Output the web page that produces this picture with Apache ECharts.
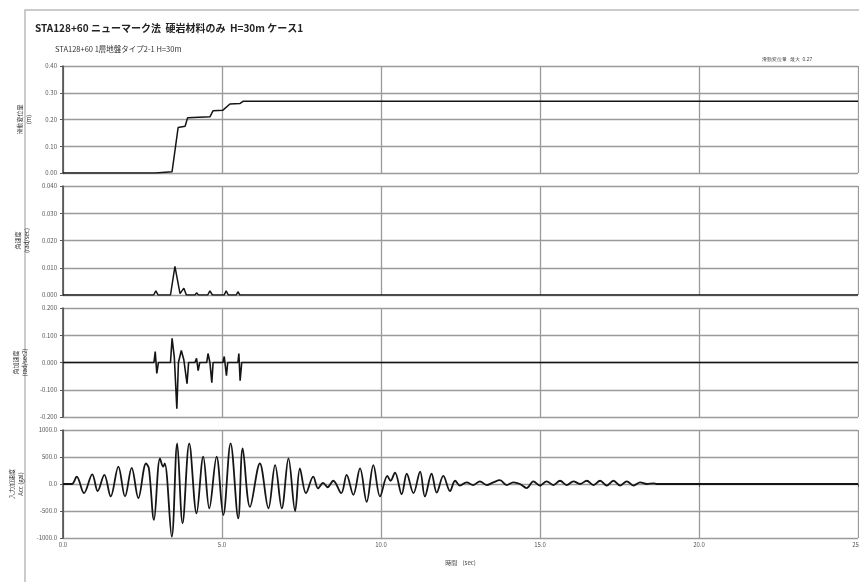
<!DOCTYPE html>
<html>
<head>
<meta charset="utf-8">
<script src="https://cdn.jsdelivr.net/npm/echarts@6/dist/echarts.min.js"></script>
<style>
html, body { margin: 0; background: #fff; }
#chart { width: 859px; height: 582px; }
</style>
</head>
<body>
<div id="chart"></div>
<script>
// 滑動変位量 (m)
let dispT = [0, 2.9, 2.95, 3.43, 3.62, 3.84, 3.92, 4.62, 4.72, 5.03, 5.25, 5.57, 5.66, 25];
let dispV = [0, 0, 0.005, 0.005, 0.17, 0.175, 0.207, 0.21, 0.233, 0.235, 0.258, 0.26, 0.268, 0.268];

// 角速度
let velT = [0, 2.85, 2.92, 2.99, 3.38, 3.52, 3.68, 3.73, 3.8, 3.88, 4.15, 4.2, 4.26, 4.55, 4.62, 4.7, 5.07, 5.13, 5.2, 5.45, 5.5, 5.56, 25];
let velV = [0, 0, 0.0015, 0, 0, 0.0105, 0.0005, 0, 0.0025, 0, 0, 0.0008, 0, 0, 0.0015, 0, 0, 0.0015, 0, 0, 0.0012, 0, 0];

// 角加速度
let accT = [0, 2.86, 2.9, 2.95, 3.0, 3.38, 3.43, 3.5, 3.58, 3.63, 3.68, 3.72, 3.8, 3.9, 3.95, 4.15, 4.2, 4.25, 4.3, 4.52, 4.56, 4.62, 4.68, 4.72,
            5.03, 5.07, 5.14, 5.18, 5.5, 5.53, 5.57, 5.62, 5.86, 5.88, 5.9, 7.31, 7.33, 7.35, 25];
let accV = [0, 0, 0.04, -0.04, 0, 0, 0.089, 0.02, -0.17, 0, 0, 0.044, 0.01, -0.078, 0, 0, 0.015, -0.03, 0, 0, 0.033, 0, -0.074, 0,
            0, 0.022, -0.048, 0, 0, 0.033, -0.067, 0, 0, 0.006, 0, 0, 0.005, 0, 0];

// 入力加速度 (gal)
let inT = [0, 0.28, 0.43, 0.66, 0.92, 1.09, 1.30, 1.50, 1.74, 1.95, 2.16, 2.37, 2.61, 2.70, 2.86, 3.05, 3.15, 3.20, 3.42, 3.59, 3.76, 3.97,
           4.20, 4.41, 4.60, 4.83, 5.04, 5.27, 5.51, 5.65, 5.88, 6.19, 6.46, 6.67, 6.88, 7.09, 7.30, 7.45, 7.64, 7.87, 8.02, 8.18, 8.32,
           8.50, 8.75, 8.92, 9.13, 9.34, 9.55, 9.76, 9.97, 10.2, 10.3, 10.44, 10.65, 10.81, 11.02, 11.23, 11.38, 11.59, 11.75, 11.96, 12.17,
           12.33, 12.48, 12.69, 12.90, 13.11, 13.32, 13.53, 13.74, 13.95, 14.16, 14.37, 14.58, 14.79, 15.0, 15.21, 15.42, 15.63, 15.84,
           16.05, 16.26, 16.47, 16.68, 16.89, 17.10, 17.31, 17.52, 17.73, 17.94, 18.15, 18.36, 18.57, 18.67, 25];
let inV = [0, 0, 135, -170, 180, -130, 170, -230, 320, -230, 300, -260, 380, 290, -665, 475, 320, 380, -975, 753, -728, 753,
           -543, 506, -450, 506, -574, 753, -636, 660, -425, 380, -450, 350, -450, 475, -500, 290, -170, 135, -80, 20, -60,
           60, -170, 170, -200, 290, -330, 350, -230, 150, 60, 210, -190, 190, -170, 230, -230, 190, -160, 150, -130,
           60, -30, 30, -20, 50, -20, 30, 70, -20, 30, 0, -75, 50, -30, 50, -20, 60, -20,
           50, 0, 60, -20, 60, -30, 60, -30, 50, -30, 30, 0, 10, 0, 0];

let tickX = [0, 5, 10, 15, 20, 25];

function zip(a, b) {
    let out = [];
    for (let i = 0; i < a.length; i++) {
        out.push([a[i], b[i]]);
    }
    return out;
}

let panels = [
    { top: 66,  height: 107, min: 0,     max: 0.4,  interval: 0.1,  digits: 2, name: '滑動変位量\n(m)',        data: zip(dispT, dispV), width: 1.5 },
    { top: 186, height: 109, min: 0,     max: 0.04, interval: 0.01, digits: 3, name: '角速度\n(rad/sec)',      data: zip(velT, velV),   width: 1.5 },
    { top: 308, height: 109, min: -0.2,  max: 0.2,  interval: 0.1,  digits: 3, name: '角加速度\n(rad/sec2)',   data: zip(accT, accV),   width: 1.6 },
    { top: 430, height: 108, min: -1000, max: 1000, interval: 500,  digits: 1, name: '入力加速度\nAcc (gal)', data: zip(inT, inV),     width: 1.8 }
];

let gridColor = '#9a9a9a';
let font = '"Noto Sans CJK JP", "Noto Sans", sans-serif';

let grids = [], xAxes = [], yAxes = [], series = [];
panels.forEach((p, i) => {
    grids.push({ left: 63, right: 1, top: p.top, height: p.height, containLabel: false, outerBoundsMode: 'none' });
    xAxes.push({
        type: 'value', gridIndex: i, min: 0, max: 25, interval: 5,
        axisLine: { show: false },
        axisTick: { show: i === 3, length: 3, lineStyle: { color: '#555' } },
        axisLabel: {
            show: i === 3, fontSize: 6, color: '#555', fontFamily: font, margin: 4,
            formatter: v => tickX.indexOf(v) >= 0 ? v.toFixed(1) : ''
        },
        splitLine: { show: true, lineStyle: { color: gridColor, width: 1.3 } },
        name: i === 3 ? '時間    (sec)' : '',
        nameLocation: 'middle', nameGap: 22,
        nameTextStyle: { fontSize: 6, color: '#444', fontFamily: font }
    });
    yAxes.push({
        type: 'value', gridIndex: i, min: p.min, max: p.max, interval: p.interval,
        axisLine: { show: true, lineStyle: { color: '#444', width: 1.5 } },
        axisTick: { show: true, length: 3, lineStyle: { color: '#555' } },
        axisLabel: { fontSize: 6, color: '#555', fontFamily: font, margin: 6, formatter: v => v.toFixed(p.digits) },
        splitLine: { show: true, lineStyle: { color: gridColor, width: 1.3 } },
        name: p.name, nameLocation: 'middle', nameGap: 30, nameRotate: 90,
        nameTextStyle: { fontSize: 6, color: '#333', fontFamily: font, lineHeight: 9 }
    });
    series.push({
        type: 'line', xAxisIndex: i, yAxisIndex: i,
        data: p.data, showSymbol: false,
        smooth: i === 3 ? 0.35 : false,
        lineStyle: { color: '#151515', width: p.width }
    });
});

let chart = echarts.init(document.getElementById('chart'));
chart.setOption({
    animation: false,
    backgroundColor: '#fff',
    title: [
        { text: 'STA128+60 ニューマーク法  硬岩材料のみ  H=30m ケース1', left: 35, top: 23, padding: 0,
          textStyle: { fontSize: 10, fontWeight: 'bold', color: '#222', fontFamily: font } },
        { text: 'STA128+60 1層地盤タイプ2-1 H=30m', left: 55, top: 45, padding: 0,
          textStyle: { fontSize: 7.5, fontWeight: 'normal', color: '#333', fontFamily: font } }
    ],
    graphic: [
        { type: 'rect', shape: { x: 25, y: 10, width: 840, height: 580 }, style: { fill: 'none', stroke: '#bbb', lineWidth: 1.5 }, silent: true },
        { type: 'text', left: 762, top: 57, style: { text: '滑動変位量  最大  0.27', fontSize: 5, fill: '#444', font: '5px ' + font } }
    ],
    grid: grids,
    xAxis: xAxes,
    yAxis: yAxes,
    series: series
});
</script>
</body>
</html>
